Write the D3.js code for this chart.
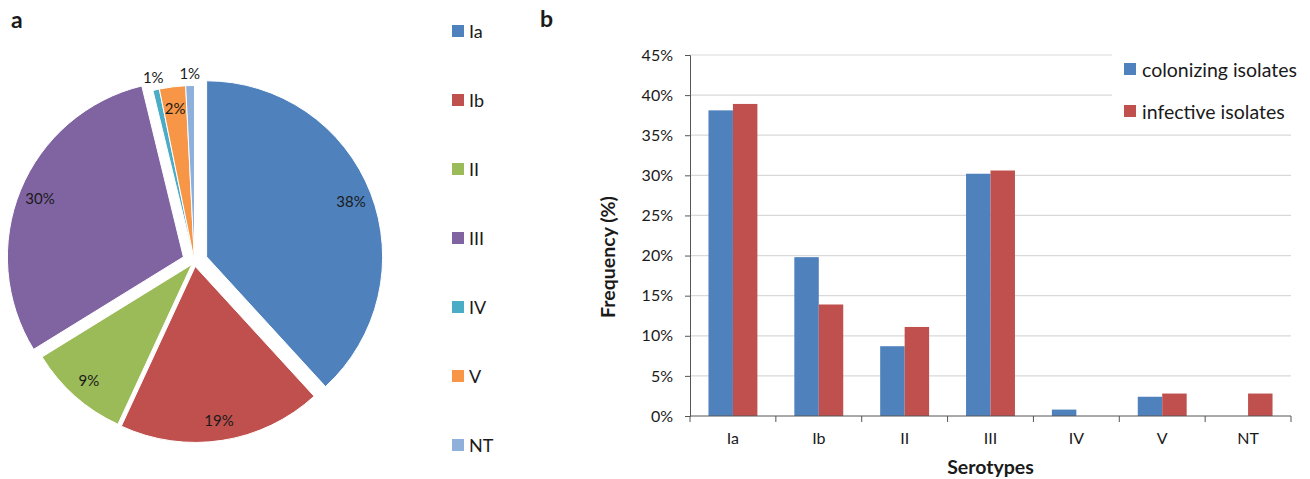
<!DOCTYPE html>
<html><head><meta charset="utf-8">
<script src="https://cdn.jsdelivr.net/npm/d3@7/dist/d3.min.js"></script>
<style>
html,body{margin:0;padding:0;background:#fff;}
text{font-family:Lato,"Open Sans",sans-serif;fill:#1a1a1a;}
</style></head>
<body><svg id="chart" width="1310" height="479"></svg>
<script>
// ---------- data ----------
const pieCategories = ["Ia","Ib","II","III","IV","V","NT"];
const pieValues = [38.2, 18.7, 9.3, 30.0, 0.6, 2.4, 0.8];
const barCategories = ["Ia","Ib","II","III","IV","V","NT"];
const seriesNames = ["colonizing isolates","infective isolates"];
const colonizing = [38.1, 19.8, 8.7, 30.2, 0.8, 2.4, 0];
const infective = [38.9, 13.9, 11.1, 30.6, 0, 2.8, 2.8];
const yTicks = [0,5,10,15,20,25,30,35,40,45];

// ---------- style ----------
const pieColors = ["#4F81BD","#C0504D","#9BBB59","#8064A2","#4BACC6","#F79646","#8EB0DA"];
const barColors = ["#4F81BD","#C0504D"];
const explode = [13,5,4,12,0,0,0];

const svg = d3.select("#chart");

// panel letters
svg.append("text").attr("x",11).attr("y",28).attr("font-size",23).attr("font-weight","bold").text("a");
svg.append("text").attr("x",540).attr("y",27).attr("font-size",23).attr("font-weight","bold").text("b");

// ---------- pie ----------
const cx = 194.5, cy = 261.5, R = 176;
const pie = d3.pie().sort(null).value(d=>d.v);
const pdata = pie(pieCategories.map((c,i)=>({c, v:pieValues[i], i})));
const arc = d3.arc().innerRadius(0).outerRadius(R);
const gp = svg.append("g").attr("transform",`translate(${cx},${cy})`);
function off(d, r){ const a=(d.startAngle+d.endAngle)/2; return [Math.sin(a)*r, -Math.cos(a)*r]; }
gp.selectAll("path.slice").data(pdata).join("path")
  .attr("class","slice")
  .attr("d",arc)
  .attr("fill",d=>pieColors[d.data.i])
  .attr("stroke","#fff").attr("stroke-width",1)
  .attr("transform",d=>{const o=off(d,explode[d.data.i]);return `translate(${o[0]},${o[1]})`;});
gp.selectAll("text.lbl").data(pdata).join("text")
  .attr("class","lbl")
  .attr("text-anchor","middle").attr("dominant-baseline","central")
  .attr("font-size",15)
  .attr("transform",d=>{
     const small = d.data.v < 2;
     const o=off(d, small?189:(155+explode[d.data.i]));
     return `translate(${o[0]},${o[1]})`;})
  .text(d=>Math.round(d.data.v)+"%");

// pie legend
const pl = svg.append("g");
pieCategories.forEach((c,i)=>{
  const y = 31 + i*69;
  pl.append("rect").attr("x",452).attr("y",y-6).attr("width",12).attr("height",12).attr("fill",pieColors[i]);
  pl.append("text").attr("x",469).attr("y",y).attr("dominant-baseline","central").attr("font-size",18).text(c);
});

// ---------- bars ----------
const x0 = d3.scaleBand().domain(barCategories).range([690,1291]).padding(0);
const x1 = d3.scaleBand().domain(seriesNames).range([0,x0.bandwidth()]).paddingInner(0).paddingOuter(0.755);
const y = d3.scaleLinear().domain([0,45]).range([416,55]);

// gridlines
const gg = svg.append("g");
yTicks.filter(t=>t>0).forEach(t=>{
  gg.append("line").attr("x1",690).attr("x2", t>=40?1112:1291)
    .attr("y1",y(t)).attr("y2",y(t)).attr("stroke","#d9d9d9").attr("stroke-width",1.2);
});

// bars
const series = [colonizing, infective];
const gb = svg.append("g");
series.forEach((vals,si)=>{
  gb.selectAll(null).data(barCategories.map((c,i)=>({c,v:vals[i]}))).join("rect")
    .attr("x",d=>x0(d.c)+x1(seriesNames[si]))
    .attr("width",x1.bandwidth())
    .attr("y",d=>y(d.v))
    .attr("height",d=>y(0)-y(d.v))
    .attr("fill",barColors[si]);
});

// y axis
const ya = svg.append("g").attr("transform","translate(690,0)")
  .call(d3.axisLeft(y).tickValues(yTicks).tickSize(5).tickPadding(12).tickFormat(d=>d+"%"));
ya.select(".domain").attr("stroke","#555");
ya.selectAll(".tick line").attr("stroke","#555");
ya.selectAll("text").attr("font-size",16).style("font-family","Lato").attr("fill","#1a1a1a");

// x axis
const xa = svg.append("g").attr("transform","translate(0,416)")
  .call(d3.axisBottom(x0).tickSize(0).tickPadding(17));
xa.select(".domain").remove();
xa.selectAll("text").attr("font-size",16).style("font-family","Lato").attr("fill","#1a1a1a");
svg.append("line").attr("x1",690).attr("x2",1291).attr("y1",416).attr("y2",416).attr("stroke","#555");
const edges = barCategories.map(c=>x0(c)).concat([x0(barCategories[barCategories.length-1])+x0.bandwidth()]);
svg.selectAll("line.xt").data(edges).join("line").attr("class","xt")
  .attr("x1",d=>d).attr("x2",d=>d).attr("y1",416).attr("y2",422).attr("stroke","#555");

// axis titles
svg.append("text").attr("x",990.5).attr("y",474).attr("text-anchor","middle")
  .attr("font-size",19.5).attr("font-weight","bold").text("Serotypes");
svg.append("text").attr("transform","translate(615,257) rotate(-90)").attr("text-anchor","middle")
  .attr("font-size",19.5).attr("font-weight","bold").text("Frequency (%)");

// bar legend
seriesNames.forEach((s,i)=>{
  const yy = 69 + i*42;
  svg.append("rect").attr("x",1124).attr("y",yy-6).attr("width",12).attr("height",12).attr("fill",barColors[i]);
  svg.append("text").attr("x",1142).attr("y",yy).attr("dominant-baseline","central").attr("font-size",19.5).text(s);
});
</script></body></html>
